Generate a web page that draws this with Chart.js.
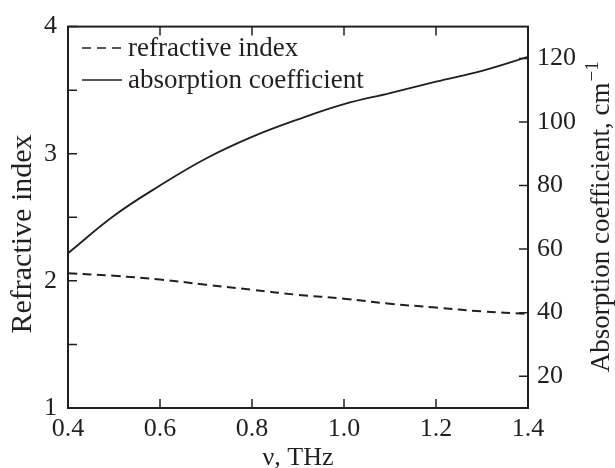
<!DOCTYPE html>
<html>
<head>
<meta charset="utf-8">
<script src="https://cdn.jsdelivr.net/npm/chart.js@4"></script>
<style>
  html, body { margin: 0; padding: 0; background: #fff; }
</style>
</head>
<body>
<canvas id="grafica" width="615" height="468"></canvas>
<script>
// datos
const frecuencias = [0.4, 0.5, 0.6, 0.7, 0.8, 0.9, 1.0, 1.1, 1.2, 1.3, 1.4];
const indiceRefraccion = [2.06, 2.04, 2.01, 1.97, 1.93, 1.89, 1.86, 1.82, 1.79, 1.76, 1.74];
const absorcion = [58.7, 70.5, 80.0, 88.5, 95.3, 100.8, 105.6, 109.1, 112.7, 116.1, 120.5];

const ticksX = [0.4, 0.6, 0.8, 1.0, 1.2, 1.4];
const ticksIzq = [1, 1.5, 2, 2.5, 3, 3.5, 4];
const ticksDer = [20, 40, 60, 80, 100, 120];

const nombres = ['refractive index', 'absorption coefficient'];
const tituloX = 'ν, THz';
const tituloIzq = 'Refractive index';
const tituloDer = 'Absorption coefficient, cm';

const tinta = '#231f20';
const fuente = 'Liberation Serif';

function fijarTicks(valores) {
  return scale => { scale.ticks = valores.map(v => ({ value: v })); };
}

const marco = {
  id: 'marco',
  afterDraw(chart) {
    const ctx = chart.ctx;
    const a = chart.chartArea;
    const sx = chart.scales.x, sy = chart.scales.y, sy2 = chart.scales.y2;
    const largo = 9;
    ctx.save();
    ctx.strokeStyle = tinta;
    ctx.lineWidth = 2;
    ctx.strokeRect(a.left, a.top, a.right - a.left, a.bottom - a.top);

    ctx.lineWidth = 1.5;
    ctx.beginPath();
    ticksX.forEach(v => {
      const px = sx.getPixelForValue(v);
      ctx.moveTo(px, a.bottom); ctx.lineTo(px, a.bottom - largo);
      ctx.moveTo(px, a.top); ctx.lineTo(px, a.top + largo);
    });
    ticksIzq.forEach(v => {
      const py = sy.getPixelForValue(v);
      ctx.moveTo(a.left, py); ctx.lineTo(a.left + largo, py);
    });
    ticksDer.forEach(v => {
      const py = sy2.getPixelForValue(v);
      ctx.moveTo(a.right, py); ctx.lineTo(a.right - largo, py);
    });
    ctx.stroke();

    // leyenda
    ctx.font = '27px "' + fuente + '"';
    ctx.fillStyle = tinta;
    ctx.textBaseline = 'middle';
    chart.data.datasets.forEach((ds, i) => {
      const y = 48 + i * 32;
      ctx.beginPath();
      ctx.setLineDash(ds.borderDash ? [9, 6] : []);
      ctx.lineWidth = 1.6;
      ctx.moveTo(82, y); ctx.lineTo(122, y);
      ctx.stroke();
      ctx.setLineDash([]);
      ctx.fillText(nombres[i], 128, y + 1);
    });

    // titulo del eje izquierdo
    ctx.save();
    ctx.translate(31, 234);
    ctx.rotate(-Math.PI / 2);
    ctx.textBaseline = 'alphabetic';
    ctx.textAlign = 'center';
    ctx.font = '30px "' + fuente + '"';
    ctx.fillText(tituloIzq, 0, 0);
    ctx.restore();

    // titulo del eje derecho, leido de abajo hacia arriba
    const medio = (a.top + a.bottom) / 2;
    ctx.translate(609, medio);
    ctx.rotate(-Math.PI / 2);
    ctx.textBaseline = 'alphabetic';
    ctx.font = '27px "' + fuente + '"';
    const w1 = ctx.measureText(tituloDer).width;
    ctx.font = '19px "' + fuente + '"';
    const w2 = ctx.measureText('−1').width;
    const x0 = -(w1 + w2) / 2;
    ctx.font = '27px "' + fuente + '"';
    ctx.fillText(tituloDer, x0, 0);
    ctx.font = '19px "' + fuente + '"';
    ctx.fillText('−1', x0 + w1 + 1, -11);
    ctx.restore();
  }
};

const ctx = document.getElementById('grafica').getContext('2d');
new Chart(ctx, {
  type: 'line',
  data: {
    datasets: [{
      label: nombres[0],
      data: frecuencias.map((f, i) => ({ x: f, y: indiceRefraccion[i] })),
      yAxisID: 'y',
      borderColor: tinta,
      borderWidth: 2,
      borderDash: [9, 5.5],
      pointRadius: 0,
      tension: 0.4
    }, {
      label: nombres[1],
      data: frecuencias.map((f, i) => ({ x: f, y: absorcion[i] })),
      yAxisID: 'y2',
      borderColor: tinta,
      borderWidth: 1.8,
      pointRadius: 0,
      tension: 0.4
    }]
  },
  options: {
    responsive: false,
    animation: false,
    layout: { padding: { top: 22, left: 0, right: 0, bottom: 0 } },
    plugins: {
      legend: { display: false },
      tooltip: { enabled: false }
    },
    scales: {
      x: {
        type: 'linear',
        min: 0.4,
        max: 1.4,
        afterBuildTicks: fijarTicks(ticksX),
        afterFit: s => { s.height = 60; },
        grid: { display: false, drawTicks: false },
        border: { display: false },
        ticks: {
          color: tinta,
          font: { family: fuente, size: 26 },
          padding: 6,
          maxRotation: 0,
          autoSkip: false,
          callback: v => v.toFixed(1)
        },
        title: {
          display: true,
          text: tituloX,
          color: tinta,
          font: { family: fuente, size: 26, lineHeight: 1 },
          padding: { top: 0, bottom: -3 }
        }
      },
      y: {
        position: 'left',
        min: 1,
        max: 4,
        afterBuildTicks: fijarTicks(ticksIzq),
        afterFit: s => { s.width = 68; },
        grid: { display: false, drawTicks: false },
        border: { display: false },
        ticks: {
          color: tinta,
          font: { family: fuente, size: 26 },
          padding: 11,
          autoSkip: false,
          callback: v => Number.isInteger(v) ? String(v) : ''
        }
      },
      y2: {
        position: 'right',
        min: 10,
        max: 130,
        afterBuildTicks: fijarTicks(ticksDer),
        afterFit: s => { s.width = 87; },
        grid: { display: false, drawTicks: false },
        border: { display: false },
        ticks: {
          color: tinta,
          font: { family: fuente, size: 26 },
          padding: 9,
          autoSkip: false
        }
      }
    }
  },
  plugins: [marco]
});
</script>
</body>
</html>
